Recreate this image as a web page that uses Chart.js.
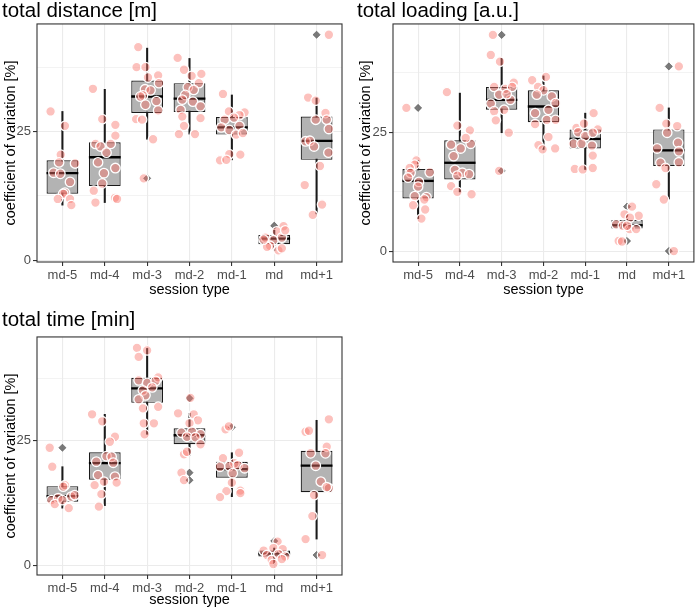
<!DOCTYPE html>
<html>
<head>
<meta charset="utf-8">
<script src="https://cdn.jsdelivr.net/npm/chart.js@4.4.1/dist/chart.umd.min.js"></script>
<style>
  body { margin: 0; background: #fff; width: 700px; height: 612px; overflow: hidden; position: relative; }
  canvas { position: absolute; }
</style>
</head>
<body>
<canvas id="dist" width="350" height="300" style="left:0px;top:0px"></canvas>
<canvas id="load" width="345" height="300" style="left:355px;top:0px"></canvas>
<canvas id="time" width="350" height="303" style="left:0px;top:309px"></canvas>
<script>
const categories = ['md-5', 'md-4', 'md-3', 'md-2', 'md-1', 'md', 'md+1']

// total distance
const distLow  = [10.7, 11.2, 23.5, 24.5, 19.5, 1.9, 9.0]
const distQ1   = [12.9, 14.4, 28.6, 28.8, 24.4, 3.1, 19.5]
const distMed  = [16.9, 20.0, 31.8, 31.4, 25.8, 4.2, 23.2]
const distQ3   = [19.4, 22.9, 34.9, 34.4, 27.8, 4.9, 27.9]
const distHigh = [28.9, 33.2, 41.2, 39.2, 32.1, 5.8, 31.5]
const distOutCat = [3, 6, 7]
const distOutVal = [15.9, 6.7, 43.8]
const distPts = [
  [28.9, 26.1, 20.5, 19.0, 18.8, 17.0, 16.8, 15.2, 13.1, 12.9, 11.9, 11.9, 10.7],
  [33.3, 27.4, 26.3, 24.2, 22.6, 22.1, 22.6, 20.9, 19.0, 17.9, 16.9, 14.9, 13.5, 12.1, 11.9, 11.2],
  [41.4, 37.5, 37.5, 35.9, 35.5, 34.4, 33.2, 33.0, 32.0, 31.8, 30.9, 30.2, 29.1, 27.4, 27.3, 23.5, 15.9],
  [39.3, 37.0, 35.8, 36.2, 34.4, 33.6, 33.1, 32.1, 31.2, 30.8, 29.9, 29.2, 27.9, 27.6, 26.1, 24.5, 24.5],
  [32.3, 28.9, 28.7, 28.2, 27.3, 27.7, 25.8, 25.3, 26.1, 24.4, 24.7, 20.6, 20.5, 19.4, 19.5],
  [6.6, 5.6, 4.4, 3.9, 4.4, 2.8, 2.6, 1.9, 2.3, 5.8, 4.0],
  [43.8, 31.6, 31.0, 28.6, 27.3, 27.3, 25.5, 23.1, 23.2, 22.1, 20.9, 18.3, 14.6, 10.8, 8.8]
]
const distJit = [
  [-0.28, 0.06, -0.04, -0.08, 0.30, -0.21, -0.05, 0.18, 0.06, 0.02, -0.11, 0.18, 0.21],
  [-0.28, -0.06, 0.25, 0.25, -0.22, -0.10, 0.14, 0.04, -0.16, 0.25, -0.02, -0.06, -0.26, 0.24, 0.29, -0.22],
  [-0.21, -0.25, -0.04, 0.26, 0.02, 0.28, -0.05, 0.08, -0.10, -0.16, 0.22, -0.04, 0.26, -0.26, -0.12, 0.14, -0.08],
  [-0.28, -0.13, 0.05, 0.28, 0.22, -0.04, 0.10, -0.10, -0.17, 0.08, 0.26, -0.21, -0.17, 0.26, -0.13, -0.25, 0.13],
  [-0.21, -0.07, 0.30, 0.18, -0.17, 0.05, -0.25, -0.06, 0.18, 0.10, 0.26, -0.06, 0.20, -0.28, -0.13],
  [0.22, 0.06, -0.21, -0.02, 0.18, -0.10, -0.17, 0.10, 0.18, 0.26, -0.25],
  [0.29, -0.20, -0.02, 0.21, -0.02, 0.24, 0.29, -0.26, -0.16, -0.06, 0.28, 0.08, -0.28, 0.13, -0.09]
]

// total loading
const loadLow  = [6.9, 12.5, 24.9, 21.4, 17.2, 4.7, 11.0]
const loadQ1   = [11.1, 15.1, 29.7, 27.1, 21.6, 4.8, 17.9]
const loadMed  = [14.8, 18.6, 31.8, 30.4, 23.6, 5.5, 21.2]
const loadQ3   = [17.3, 23.3, 34.5, 33.8, 25.6, 6.6, 25.6]
const loadHigh = [19.1, 33.2, 40.5, 36.8, 29.0, 7.8, 30.1]
const loadOutCat = [1, 3, 3, 6, 6, 7, 7]
const loadOutVal = [30.1, 45.4, 16.9, 9.4, 2.2, 38.8, 0.1]
const loadPts = [
  [30.1, 19.1, 18.2, 17.5, 16.6, 16.5, 15.5, 14.6, 13.6, 11.6, 11.4, 10.9, 9.7, 8.8, 6.9],
  [33.4, 26.4, 25.4, 22.4, 22.6, 23.8, 21.6, 20.0, 17.1, 16.5, 16.2, 15.9, 13.7, 12.5, 12.0],
  [45.4, 41.2, 39.8, 35.4, 34.5, 34.1, 34.5, 32.9, 31.8, 31.0, 29.7, 29.4, 27.5, 24.9, 16.9, 33.0],
  [35.9, 36.6, 34.5, 33.8, 32.9, 32.5, 31.1, 29.7, 29.0, 27.6, 27.6, 26.7, 24.0, 22.3, 21.4, 21.6],
  [29.0, 25.9, 26.8, 25.6, 25.0, 24.2, 24.9, 22.6, 22.6, 22.2, 20.1, 17.3, 17.2, 17.5],
  [9.4, 7.8, 7.5, 7.1, 5.7, 5.4, 4.7, 4.7, 5.4, 2.2, 2.1],
  [38.8, 30.1, 26.8, 26.3, 24.9, 22.8, 21.6, 21.0, 18.6, 18.7, 17.5, 14.1, 10.9, 0.1]
]
const loadJit = [
  [-0.28, -0.04, -0.08, -0.20, 0.28, -0.18, -0.24, 0.02, 0.00, -0.08, 0.20, 0.15, -0.12, 0.17, 0.08],
  [-0.31, -0.06, 0.24, -0.21, 0.26, 0.14, 0.02, -0.15, -0.12, 0.06, 0.22, -0.06, -0.21, -0.06, 0.28],
  [-0.21, -0.26, -0.04, 0.29, -0.18, 0.09, 0.25, -0.06, 0.21, -0.26, 0.06, -0.18, -0.14, 0.17, -0.06, 0.12],
  [-0.27, 0.06, -0.13, 0.00, -0.16, 0.20, 0.29, 0.12, -0.20, 0.08, 0.29, -0.20, 0.12, -0.12, -0.02, 0.28],
  [0.20, -0.21, -0.03, 0.30, -0.17, 0.00, 0.18, -0.28, -0.09, 0.16, 0.18, -0.25, -0.06, 0.18],
  [0.12, -0.06, 0.28, 0.07, -0.26, -0.10, 0.06, 0.22, 0.00, -0.20, -0.12],
  [0.24, -0.22, -0.06, 0.20, -0.04, 0.22, -0.28, 0.24, -0.20, 0.24, -0.08, -0.30, -0.12, 0.12]
]

// total time
const timeLow  = [11.5, 12.0, 26.3, 22.0, 13.8, 0.3, 5.3]
const timeQ1   = [12.8, 17.2, 32.6, 24.3, 17.6, 1.8, 14.7]
const timeMed  = [13.9, 20.5, 35.5, 26.1, 19.3, 2.4, 20.0]
const timeQ3   = [15.9, 22.7, 37.6, 27.5, 20.8, 3.0, 23.0]
const timeHigh = [19.8, 30.3, 43.5, 30.5, 22.6, 3.5, 29.1]
const timeOutCat = [1, 4, 4, 4, 5, 6, 7]
const timeOutVal = [23.6, 33.5, 18.6, 17.1, 27.7, 4.9, 2.1]
const timePts = [
  [23.6, 19.8, 16.1, 15.8, 13.1, 13.5, 13.8, 14.1, 12.3, 13.1, 11.5],
  [30.3, 28.9, 25.8, 24.8, 20.8, 21.9, 21.8, 20.6, 18.1, 16.1, 16.8, 17.8, 16.6, 14.3, 11.8],
  [43.6, 43.1, 41.8, 37.1, 36.6, 37.7, 37.0, 35.1, 35.7, 34.1, 33.3, 31.8, 31.5, 28.5, 28.5, 26.3],
  [33.6, 30.5, 30.3, 29.1, 28.5, 26.6, 26.8, 26.3, 25.8, 25.7, 24.3, 22.3, 22.8, 18.6, 17.1],
  [27.3, 27.9, 22.6, 21.5, 20.5, 19.9, 20.1, 19.8, 19.5, 18.5, 16.6, 14.9, 15.0, 13.7, 14.5],
  [4.8, 3.0, 3.5, 3.3, 2.1, 2.3, 1.8, 1.1, 1.3, 0.3],
  [29.3, 26.8, 27.0, 23.8, 22.5, 22.5, 20.0, 16.8, 15.5, 15.7, 14.1, 9.9, 5.3, 2.1]
]
const timeJit = [
  [-0.30, -0.24, 0.06, 0.02, -0.26, -0.10, 0.21, 0.29, -0.18, 0.00, 0.15],
  [-0.30, -0.06, 0.24, 0.12, -0.20, 0.04, 0.16, 0.20, -0.16, -0.24, -0.02, 0.24, 0.28, -0.08, -0.14],
  [-0.24, 0.00, -0.20, -0.20, 0.00, 0.26, 0.20, -0.10, 0.12, -0.04, -0.20, 0.26, -0.10, -0.08, 0.16, -0.06],
  [0.02, -0.27, 0.10, 0.20, 0.00, -0.19, 0.06, 0.26, -0.06, 0.14, 0.26, -0.13, -0.06, -0.19, -0.13],
  [-0.15, -0.07, 0.17, -0.21, 0.06, -0.06, 0.14, -0.28, 0.30, 0.02, 0.00, -0.13, 0.20, -0.28, 0.20],
  [0.08, -0.25, -0.02, 0.20, -0.17, 0.10, 0.26, -0.06, 0.18, -0.02],
  [0.29, -0.26, -0.18, 0.24, -0.14, 0.21, -0.02, 0.10, 0.29, 0.24, -0.06, -0.10, -0.26, 0.13]
]

const FONT = "'Liberation Sans', Arial, Helvetica, sans-serif"

function panel(o) {
  const boxes = categories.map((c, i) => ({x: i + 1, y: [o.q1[i], o.q3[i]]}))
  const whiskers = categories.map((c, i) => ({x: i + 1, y: [o.low[i], o.high[i]]}))
  const outliers = o.outCat.map((c, i) => ({x: c, y: o.outVal[i]}))
  const points = []
  o.pts.forEach((vals, i) => vals.forEach((v, j) => points.push({x: i + 1 + o.jit[i][j], y: v})))

  // median bar drawn right after the boxes, under the jittered points
  const medianLine = {
    id: 'medianLine',
    afterDatasetDraw(chart, args) {
      if (args.index !== 2) return
      const ctx = chart.ctx
      const y = chart.scales.y
      ctx.save()
      ctx.strokeStyle = '#000'
      ctx.lineWidth = 2.3
      args.meta.data.forEach((bar, i) => {
        const py = y.getPixelForValue(o.med[i])
        ctx.beginPath()
        ctx.moveTo(bar.x - bar.width / 2, py)
        ctx.lineTo(bar.x + bar.width / 2, py)
        ctx.stroke()
      })
      ctx.restore()
    }
  }
  const frame = {
    id: 'frame',
    afterDraw(chart) {
      const a = chart.chartArea
      const ctx = chart.ctx
      ctx.save()
      ctx.strokeStyle = '#333333'
      ctx.lineWidth = 1.1
      ctx.strokeRect(a.left, a.top, a.right - a.left, a.bottom - a.top)
      ctx.restore()
    }
  }

  new Chart(document.getElementById(o.id), {
    type: 'bar',
    data: {
      datasets: [
        {
          type: 'scatter', data: points, order: 0,
          backgroundColor: 'rgba(248,118,109,0.45)', borderColor: '#ffffff',
          borderWidth: 1.3, pointRadius: 4.8
        },
        {
          type: 'scatter', data: outliers, order: 1,
          pointStyle: 'rectRot', backgroundColor: 'rgba(90,90,90,0.8)',
          borderColor: 'rgba(60,60,60,0.8)', borderWidth: 0.6, pointRadius: 3.6
        },
        {
          data: boxes, order: 2, grouped: false,
          backgroundColor: '#b3b3b3', borderColor: '#1a1a1a', borderWidth: 1.2,
          borderSkipped: false, barPercentage: 0.75, categoryPercentage: 1
        },
        {
          data: whiskers, order: 3, grouped: false,
          backgroundColor: '#1a1a1a', barThickness: 1.4, borderWidth: 0
        }
      ]
    },
    options: {
      responsive: false,
      animation: false,
      events: [],
      layout: {padding: {left: 2, right: o.padRight, top: 0, bottom: 0}},
      plugins: {
        legend: {display: false},
        tooltip: {enabled: false},
        title: {
          display: true, text: o.title, align: 'start', color: '#000',
          font: {family: FONT, size: 20.5, weight: 'normal', lineHeight: 1.1},
          padding: {top: 0, bottom: o.titleGap}
        }
      },
      scales: {
        x: {
          type: 'linear', min: 0.4, max: 7.6, offset: false,
          afterBuildTicks: s => { s.ticks = categories.map((c, i) => ({value: i + 1})) },
          afterFit: s => { s.height = o.xH },
          ticks: {
            autoSkip: false, maxRotation: 0, padding: 2, color: '#4d4d4d',
            font: {family: FONT, size: 13},
            callback: (v, i) => categories[i]
          },
          grid: {color: '#ebebeb', lineWidth: 1.1, tickColor: '#333333', tickLength: 4, offset: false},
          border: {display: false},
          title: {
            display: true, text: 'session type', color: '#000',
            font: {family: FONT, size: 14.5}, padding: {top: 0, bottom: o.xTitlePad}
          }
        },
        y: {
          type: 'linear', min: o.yMin, max: o.yMax,
          afterBuildTicks: s => { s.ticks = [0, 12.5, 25, 37.5].map(v => ({value: v})) },
          afterFit: s => { s.width = o.axisW },
          ticks: {
            padding: 2, color: '#4d4d4d', font: {family: FONT, size: 13},
            callback: v => (v % 25 === 0 ? String(v) : '')
          },
          grid: {
            color: '#ebebeb',
            lineWidth: c => (c.tick && c.tick.value % 25 === 0 ? 1.1 : 0.6),
            tickColor: c => (c.tick && c.tick.value % 25 === 0 ? '#333333' : 'rgba(0,0,0,0)'),
            tickLength: 4
          },
          border: {display: false},
          title: {
            display: true, text: 'coefficient of variation [%]', color: '#000',
            font: {family: FONT, size: 14.5}, padding: {top: 0, bottom: 0}
          }
        }
      }
    },
    plugins: [medianLine, frame]
  })
}

panel({
  id: 'dist', title: 'total distance [m]',
  low: distLow, q1: distQ1, med: distMed, q3: distQ3, high: distHigh,
  outCat: distOutCat, outVal: distOutVal, pts: distPts, jit: distJit,
  yMin: -0.35, yMax: 45.9, axisW: 35, padRight: 8, titleGap: 1.4, xH: 38, xTitlePad: 1
})
panel({
  id: 'load', title: 'total loading [a.u.]',
  low: loadLow, q1: loadQ1, med: loadMed, q3: loadQ3, high: loadHigh,
  outCat: loadOutCat, outVal: loadOutVal, pts: loadPts, jit: loadJit,
  yMin: -2.2, yMax: 47.7, axisW: 36, padRight: 5, titleGap: 1.4, xH: 38, xTitlePad: 1
})
panel({
  id: 'time', title: 'total time [min]',
  low: timeLow, q1: timeQ1, med: timeMed, q3: timeQ3, high: timeHigh,
  outCat: timeOutCat, outVal: timeOutVal, pts: timePts, jit: timeJit,
  yMin: -1.9, yMax: 45.8, axisW: 35, padRight: 8, titleGap: 5.4, xH: 37, xTitlePad: 3
})
</script>
</body>
</html>
